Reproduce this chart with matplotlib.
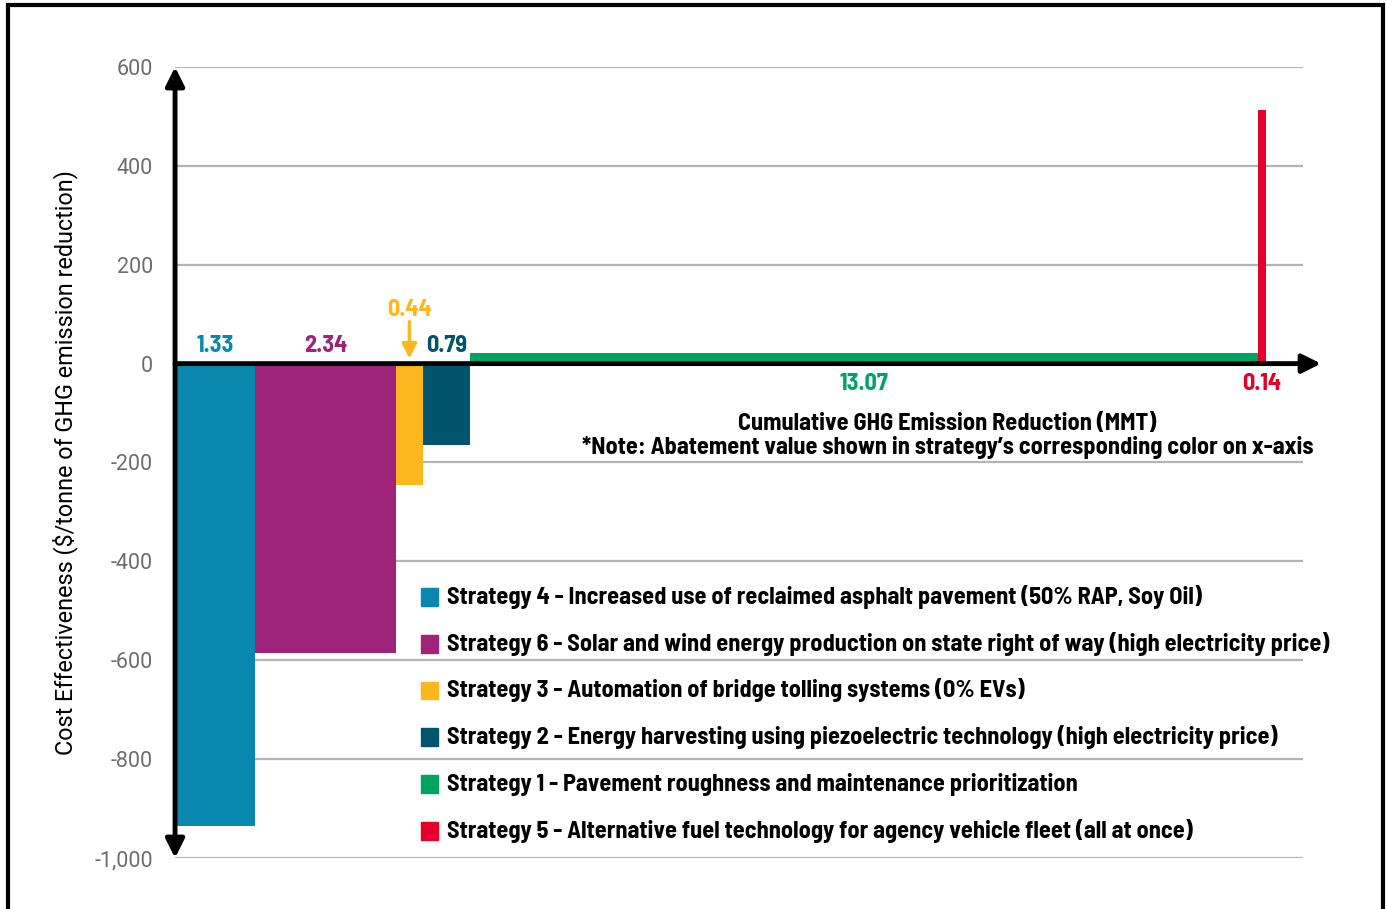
import numpy as np
import matplotlib.pyplot as plt
from matplotlib.patches import Rectangle
from matplotlib import font_manager as fm

# strategies in plotted order
names = ["Strategy 4 - Increased use of reclaimed asphalt pavement (50% RAP, Soy Oil)",
         "Strategy 6 - Solar and wind energy production on state right of way (high electricity price)",
         "Strategy 3 - Automation of bridge tolling systems (0% EVs)",
         "Strategy 2 - Energy harvesting using piezoelectric technology (high electricity price)",
         "Strategy 1 - Pavement roughness and maintenance prioritization",
         "Strategy 5 - Alternative fuel technology for agency vehicle fleet (all at once)"]
widths = [1.33, 2.34, 0.44, 0.79, 13.07, 0.14]
costs = [-935, -585, -245, -165, 22, 513]
colors = ["#0a87ae", "#a0237a", "#fdb71e", "#00546e", "#00a362", "#e4002b"]
width_labels = ["1.33", "2.34", "0.44", "0.79", "13.07", "0.14"]

yticks = [600, 400, 200, 0, -200, -400, -600, -800, -1000]
ytick_labels = ["600", "400", "200", "0", "-200", "-400", "-600", "-800", "-1,000"]

# condensed bold font if there is one
have = set(f.name for f in fm.fontManager.ttflist)
FONT = ['DejaVu Sans']
for cand in ['Barlow Semi Condensed', 'Barlow Condensed', 'Roboto Condensed', 'Liberation Sans Narrow']:
    if cand in have:
        FONT = [cand, 'DejaVu Sans']
        break
BIG = 17.5 if FONT[0] != 'DejaVu Sans' else 12

fig = plt.figure(figsize=(13.86, 9.09), dpi=100)
ax = fig.add_axes([0.1263, 0.0561, 0.8138, 0.8702])

lefts = np.concatenate([[0], np.cumsum(widths)[:-1]])
ax.bar(lefts, costs, width=widths, align='edge', color=colors, zorder=3, linewidth=0)

ax.set_xlim(0, 18.72)
ax.set_ylim(-1000, 600)
ax.set_yticks(yticks)
ax.set_yticklabels(ytick_labels, color='#6d6d6d', fontsize=15.5, family=['Roboto', 'DejaVu Sans'])
ax.set_xticks([])
ax.tick_params(axis='y', length=0, pad=16)
for s in ax.spines.values():
    s.set_visible(False)
for t in yticks:
    ax.axhline(t, color='#b4b4b4', lw=1.6, zorder=1)

# axes with arrows
ax.annotate('', xy=(0, 600), xytext=(0, -1000), xycoords='data',
            arrowprops=dict(arrowstyle='<|-|>', color='black', lw=3.5, mutation_scale=28,
                            shrinkA=0, shrinkB=0), annotation_clip=False, zorder=5)
ax.annotate('', xy=(19.02, 0), xytext=(0, 0), xycoords='data',
            arrowprops=dict(arrowstyle='-|>', color='black', lw=3.5, mutation_scale=28,
                            shrinkA=0, shrinkB=0), annotation_clip=False, zorder=5)

# width labels
centers = lefts + np.array(widths) / 2
for i in range(len(widths)):
    if i == 2:
        ax.text(centers[i], 108, width_labels[i], color=colors[i], ha='center', va='center',
                fontsize=BIG, fontweight='bold', family=FONT)
        ax.annotate('', xy=(centers[i], 10), xytext=(centers[i], 85),
                    arrowprops=dict(arrowstyle='-|>', color=colors[i], lw=2.5, mutation_scale=22,
                                    shrinkA=0, shrinkB=0))
    elif i < 4:
        ax.text(centers[i], 36, width_labels[i], color=colors[i], ha='center', va='center',
                fontsize=BIG, fontweight='bold', family=FONT)
    else:
        ax.text(centers[i], -42, width_labels[i], color=colors[i], ha='center', va='center',
                fontsize=BIG, fontweight='bold', family=FONT)

ax.text(12.82, -122, "Cumulative GHG Emission Reduction (MMT)", ha='center', va='center',
        fontsize=BIG, fontweight='bold', family=FONT)
ax.text(12.82, -170, "*Note: Abatement value shown in strategy\u2019s corresponding color on x-axis",
        ha='center', va='center', fontsize=BIG, fontweight='bold', family=FONT)

ax.set_ylabel("Cost Effectiveness ($/tonne of GHG emission reduction)", fontsize=16.8,
              family=['Roboto', 'DejaVu Sans'], labelpad=12)

# legend drawn as squares and texts
legend_y = [-472, -567, -661, -756, -851, -945]
for name, c, ly in zip(names, colors, legend_y):
    ax.add_patch(Rectangle((4.09, ly - 18), 0.28, 36, color=c, zorder=4))
    ax.text(4.51, ly, name, ha='left', va='center', fontsize=BIG, fontweight='bold',
            family=FONT, zorder=4,
            bbox=dict(facecolor='white', edgecolor='none', pad=1))

# outer frame
fig.patches.append(Rectangle((8 / 1386, -0.01), 1375 / 1386, 1.01 - 5 / 909, transform=fig.transFigure,
                             fill=False, edgecolor='black', lw=3))

fig.savefig('out.png', dpi=100)
